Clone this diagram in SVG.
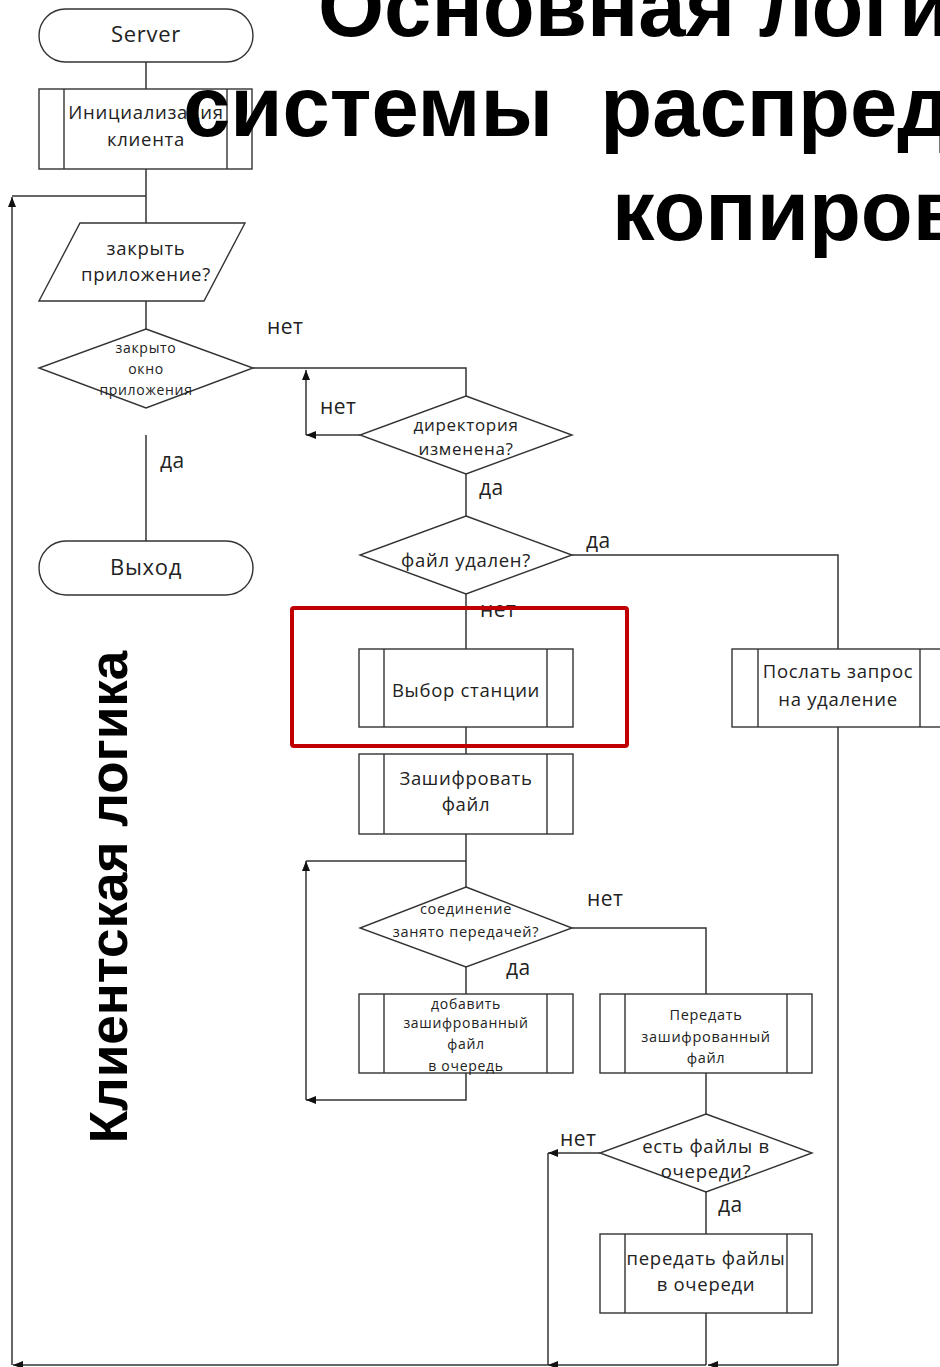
<svg xmlns="http://www.w3.org/2000/svg" width="940" height="1367" viewBox="0 0 940 1367">
  <defs>
    <marker id="arr" viewBox="0 0 10 8" refX="10" refY="4" markerWidth="10" markerHeight="8" markerUnits="userSpaceOnUse" orient="auto">
      <path d="M0,0 L10,4 L0,8 z" fill="#111"/>
    </marker>
    <style>
      .shape { fill: #fff; stroke: #333; stroke-width: 1.4; }
      .inner { stroke: #333; stroke-width: 1.4; fill: none; }
      .conn path { fill: none; stroke: #333; stroke-width: 1.5; }
      .conn path.a { marker-end: url(#arr); }
      .t { font-family: "Open Sans", "Liberation Sans", sans-serif; fill: #222; text-anchor: middle; dominant-baseline: central; letter-spacing: 0.7px; }
      .s20 { font-size: 22px; }
      .s17 { font-size: 18.5px; }
      .s16 { font-size: 17px; }
      .s14 { font-size: 14.5px; }
      .s13 { font-size: 14px; }
      .lbl { font-family: "Open Sans", "Liberation Sans", sans-serif; font-size: 21px; fill: #222; letter-spacing: 0.5px; }
      .title { font-family: "Liberation Sans", Arial, sans-serif; font-weight: bold; font-size: 85px; fill: #000; white-space: pre; }
      .side { font-family: "Liberation Sans", Arial, sans-serif; font-weight: bold; font-size: 53px; fill: #000; text-anchor: middle; }
    </style>
  </defs>

  <rect width="940" height="1367" fill="#fff"/>

  <!-- connectors -->
  <g id="connectors" class="conn">
    <path d="M146,62 V89"/>
    <path d="M146,169 V223"/>
    <path d="M146,196 H12"/>
    <path class="a" d="M12,1365 V197"/>
    <path d="M146,301 V329"/>
    <path d="M146,435 V541"/>
    <path d="M253,368 H466 V396"/>
    <path class="a" d="M360,435 H306"/>
    <path class="a" d="M306,435 V370"/>
    <path d="M466,474 V516"/>
    <path d="M572,555 H838 V649"/>
    <path d="M466,594 V649"/>
    <path d="M466,727 V754"/>
    <path d="M838,727 V1365"/>
    <path d="M466,834 V887"/>
    <path d="M466,861 H306"/>
    <path class="a" d="M306,1100 V861"/>
    <path d="M572,928 H706 V994"/>
    <path d="M466,967 V994"/>
    <path class="a" d="M466,1073 V1100 H306"/>
    <path d="M706,1073 V1114"/>
    <path class="a" d="M600,1153 H548"/>
    <path d="M548,1153 V1365"/>
    <path d="M706,1192 V1234"/>
    <path d="M706,1313 V1365"/>
    <path class="a" d="M838,1365 H708"/>
    <path class="a" d="M706,1365 H548"/>
    <path class="a" d="M548,1365 H13"/>
  </g>

  <!-- edge labels -->
  <g id="labels">
    <text class="lbl" x="267" y="334">нет</text>
    <text class="lbl" x="320" y="414">нет</text>
    <text class="lbl" x="160" y="468">да</text>
    <text class="lbl" x="479" y="495">да</text>
    <text class="lbl" x="586" y="548">да</text>
    <text class="lbl" x="480" y="617">нет</text>
    <text class="lbl" x="587" y="906">нет</text>
    <text class="lbl" x="506" y="975">да</text>
    <text class="lbl" x="560" y="1146">нет</text>
    <text class="lbl" x="718" y="1212">да</text>
  </g>

  <!-- nodes -->
  <g id="server">
    <rect class="shape" x="39" y="9" width="214" height="53" rx="26.5"/>
    <text class="t s20" x="146" y="33">Server</text>
  </g>

  <g id="init-client">
    <rect class="shape" x="39" y="89" width="213" height="80"/>
    <path class="inner" d="M64,89 V169 M227,89 V169"/>
    <text class="t s17" x="146" y="111">Инициализация</text>
    <text class="t s17" x="146" y="138">клиента</text>
  </g>

  <g id="close-app">
    <polygon class="shape" points="80,223 245,223 204,301 39,301"/>
    <text class="t s17" x="146" y="247">закрыть</text>
    <text class="t s17" x="146" y="273">приложение?</text>
  </g>

  <g id="window-closed">
    <polygon class="shape" points="146,329 253,368 146,408 39,368"/>
    <text class="t s13" x="146" y="347">закрыто</text>
    <text class="t s13" x="146" y="368">окно</text>
    <text class="t s13" x="146" y="389">приложения</text>
  </g>

  <g id="exit">
    <rect class="shape" x="39" y="541" width="214" height="54" rx="27"/>
    <text class="t s20" x="146" y="566">Выход</text>
  </g>

  <g id="dir-changed">
    <polygon class="shape" points="466,396 572,435 466,474 360,435"/>
    <text class="t s16" x="466" y="424">директория</text>
    <text class="t s16" x="466" y="448">изменена?</text>
  </g>

  <g id="file-deleted">
    <polygon class="shape" points="466,516 572,555 466,594 360,555"/>
    <text class="t s17" x="466" y="559">файл удален?</text>
  </g>

  <g id="select-station">
    <rect class="shape" x="359" y="649" width="214" height="78"/>
    <path class="inner" d="M384,649 V727 M547,649 V727"/>
    <text class="t s17" x="466" y="689">Выбор станции</text>
  </g>

  <g id="send-delete">
    <rect class="shape" x="732" y="649" width="214" height="78"/>
    <path class="inner" d="M758,649 V727 M920,649 V727"/>
    <text class="t s17" x="838" y="670">Послать запрос</text>
    <text class="t s17" x="838" y="698">на удаление</text>
  </g>

  <g id="encrypt-file">
    <rect class="shape" x="359" y="754" width="214" height="80"/>
    <path class="inner" d="M384,754 V834 M547,754 V834"/>
    <text class="t s17" x="466" y="777">Зашифровать</text>
    <text class="t s17" x="466" y="803">файл</text>
  </g>

  <g id="conn-busy">
    <polygon class="shape" points="466,887 572,928 466,967 360,928"/>
    <text class="t s14" x="466" y="908">соединение</text>
    <text class="t s14" x="466" y="931">занято передачей?</text>
  </g>

  <g id="enqueue">
    <rect class="shape" x="359" y="994" width="214" height="79"/>
    <path class="inner" d="M384,994 V1073 M547,994 V1073"/>
    <text class="t s13" x="466" y="1003">добавить</text>
    <text class="t s13" x="466" y="1022">зашифрованный</text>
    <text class="t s13" x="466" y="1043">файл</text>
    <text class="t s13" x="466" y="1065">в очередь</text>
  </g>

  <g id="send-encrypted">
    <rect class="shape" x="600" y="994" width="212" height="79"/>
    <path class="inner" d="M625,994 V1073 M787,994 V1073"/>
    <text class="t s14" x="706" y="1014">Передать</text>
    <text class="t s14" x="706" y="1036">зашифрованный</text>
    <text class="t s14" x="706" y="1057">файл</text>
  </g>

  <g id="queue-has-files">
    <polygon class="shape" points="706,1114 812,1153 706,1192 600,1153"/>
    <text class="t s17" x="706" y="1145">есть файлы в</text>
    <text class="t s17" x="706" y="1170">очереди?</text>
  </g>

  <g id="send-queue">
    <rect class="shape" x="600" y="1234" width="212" height="79"/>
    <path class="inner" d="M625,1234 V1313 M787,1234 V1313"/>
    <text class="t s17" x="706" y="1257">передать файлы</text>
    <text class="t s17" x="706" y="1283">в очереди</text>
  </g>

  <!-- highlight frame -->
  <rect id="highlight" x="292" y="608" width="335" height="138" rx="2" fill="none" stroke="#c00000" stroke-width="4"/>

  <!-- side caption -->
  <text class="side" transform="translate(127,897) rotate(-90)">Клиентская логика</text>

  <!-- heading -->
  <g id="heading">
    <text class="title" x="318" y="36">Основная логи</text>
    <text class="title" x="183" y="136" xml:space="preserve">системы  распред</text>
    <text class="title" x="612" y="240">копиров</text>
  </g>
</svg>
